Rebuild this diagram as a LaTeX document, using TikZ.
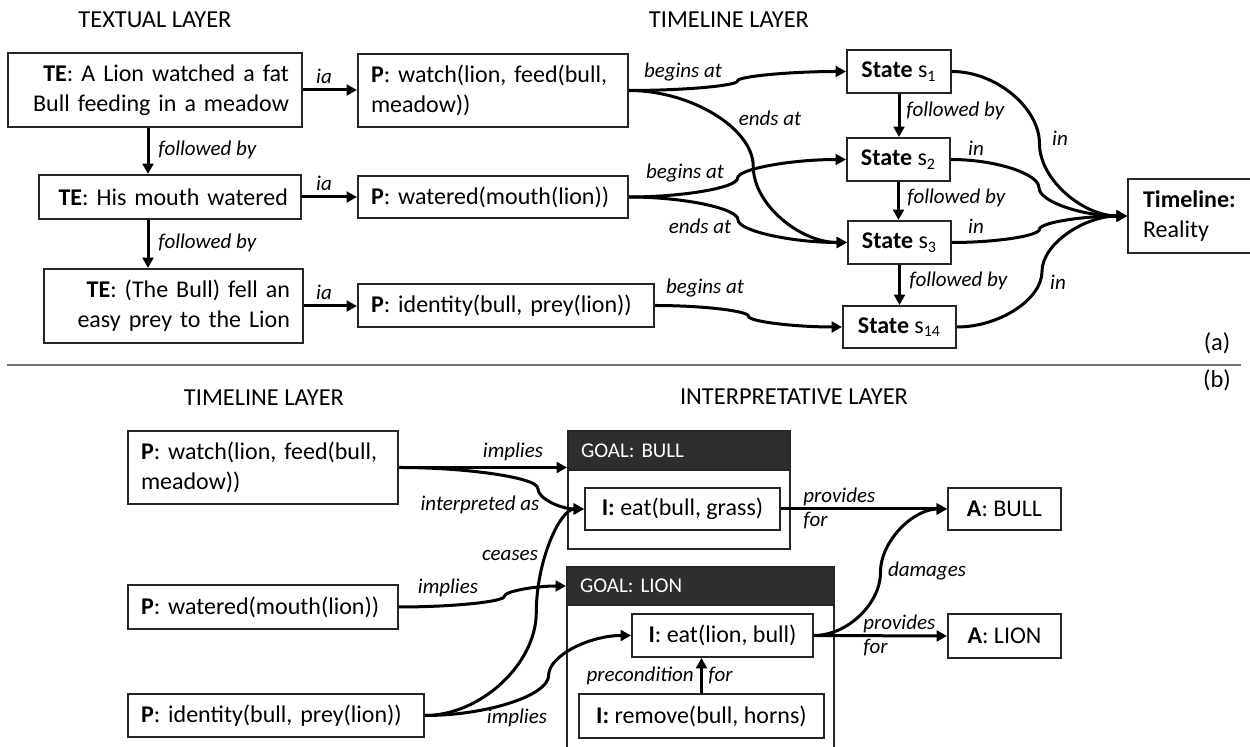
\documentclass[tikz,border=0pt]{standalone}
\usepackage{fontspec}
\setmainfont{Carlito}
\usetikzlibrary{arrows.meta,calc}
\begin{document}
\begin{tikzpicture}[x=0.5pt,y=-0.5pt,
  box/.style={draw=black!85,line width=1pt,inner xsep=6.5pt,inner ysep=0pt,
    font=\fontsize{12}{15}\selectfont,anchor=north west},
  hdr/.style={draw=black!85,fill=black!82,text=white,line width=1pt,inner xsep=6.5pt,inner ysep=0pt,
    font=\fontsize{10.5}{13}\selectfont,anchor=north west,align=left},
  lbl/.style={font=\fontsize{10.5}{12}\selectfont\itshape,inner sep=0pt},
  ttl/.style={font=\fontsize{12.2}{15}\selectfont,inner sep=0pt},
  arr/.style={line width=1.5pt,-{Triangle[length=5.2pt,width=5.4pt]}},
  cc/.style={to path={let \p1=(\tikztostart),\p2=(\tikztotarget) in
    .. controls ({\x1+#1*(\x2-\x1)/2},\y1) and ({\x1+#1*(\x2-\x1)},{\y1+(\y2-\y1)/4})
    .. ({\x1+#1*(\x2-\x1)},{(\y1+\y2)/2})
    .. controls ({\x1+#1*(\x2-\x1)},{\y1+3*(\y2-\y1)/4}) and ({\x1+(1+#1)*(\x2-\x1)/2},\y2)
    .. (\tikztotarget)}},
  cc/.default=0.5]
\useasboundingbox (0,0) rectangle (1250,747);
\clip (0,0) rectangle (1250,747);

% ---------------- (a) ----------------
\node[ttl] (t1) at (155,20) {TEXTUAL LAYER};
\node[ttl] (t2) at (729,20) {TIMELINE LAYER};

\node[box,minimum width=147pt,minimum height=37pt,text width=134pt,align=right] (te1) at (7,52)
  {\textbf{TE}: A Lion watched a fat\\Bull feeding in a meadow};
\node[box,minimum width=131pt,minimum height=22pt,text width=118pt,align=right] (te2) at (38,174)
  {\textbf{TE}: His mouth watered};
\node[box,minimum width=129.5pt,minimum height=37pt,text width=116.5pt,align=right] (te3) at (43,268)
  {\textbf{TE}: (The Bull) fell an\\easy prey to the Lion};

\node[box,minimum width=135pt,minimum height=36.5pt,text width=122pt,align=left] (p1) at (357,53)
  {\textbf{P}: watch(lion, feed(bull,\\meadow))};
\node[box,minimum width=135pt,minimum height=21pt,text width=122pt,align=left] (p2) at (357,175)
  {\textbf{P}: watered(mouth(lion))};
\node[box,minimum width=148pt,minimum height=21.5pt,text width=135pt,align=left] (p3) at (357,283)
  {\textbf{P}: identity(bull, prey(lion))};

\node[box,minimum width=52pt,minimum height=21.5pt,inner xsep=0pt] (s1) at (846,49) {\textbf{State} s\textsubscript{1}};
\node[box,minimum width=51.5pt,minimum height=21.5pt,inner xsep=0pt] (s2) at (846,137) {\textbf{State} s\textsubscript{2}};
\node[box,minimum width=51.5pt,minimum height=21.5pt,inner xsep=0pt] (s3) at (847,220) {\textbf{State} s\textsubscript{3}};
\node[box,minimum width=56.5pt,minimum height=21pt,inner xsep=0pt] (s14) at (842,305) {\textbf{State} s\textsubscript{14}};

\node[box,minimum width=65pt,minimum height=37pt,inner xsep=7.5pt,text width=50pt,align=left] (tl) at (1127,178)
  {\textbf{Timeline:}\\Reality};

\coordinate (xa) at (148,0);
\draw[arr] (te1.south -| xa) -- (te2.north -| xa);
\draw[arr] (te2.south -| xa) -- (te3.north -| xa);
\node[lbl,anchor=west] (fb1) at (158,150) {followed by};
\node[lbl,anchor=west] (fb2) at (158,243) {followed by};

\draw[arr] (te1.east) -- (te1.east -| p1.west);
\draw[arr] (te2.east) -- (te2.east -| p2.west);
\draw[arr] (te3.east) -- (te3.east -| p3.west);
\node[lbl] (ia1) at (324,76) {ia};
\node[lbl] (ia2) at (324,183) {ia};
\node[lbl] (ia3) at (324,292) {ia};

\draw[arr] (s1.south) -- (s1.south |- s2.north);
\draw[arr] (s2.south) -- (s2.south |- s3.north);
\draw[arr] (s3.south) -- (s3.south |- s14.north);
\node[lbl,anchor=west] (fb3) at (906,111) {followed by};
\node[lbl,anchor=west] (fb4) at (907,198) {followed by};
\node[lbl,anchor=west] (fb5) at (909,281) {followed by};

\draw[arr] (p1.east) to[cc] (s1.west);
\draw[arr] (p1.east) to[cc=0.57] (s3.west);
\draw[arr] (p2.east) to[cc] (s2.west);
\draw[arr] (p2.east) to[cc] (s3.west);
\draw[arr] (p3.east) to[cc] (s14.west);
\node[lbl] (ba1) at (683,72) {begins at};
\node[lbl] (ea1) at (770,118) {ends at};
\node[lbl] (ba2) at (685,173) {begins at};
\node[lbl] (ea2) at (700,226) {ends at};
\node[lbl] (ba3) at (705,288) {begins at};

\draw[arr] (s1.east) to[cc] (tl.west);
\draw[arr] (s2.east) to[cc] (tl.west);
\draw[arr] (s3.east) to[cc] (tl.west);
\draw[arr] (s14.east) to[cc] (tl.west);
\node[lbl] (in1) at (1060,138) {in};
\node[lbl] (in2) at (976,148) {in};
\node[lbl] (in3) at (976,226) {in};
\node[lbl] (in4) at (1058,282) {in};

\node[ttl] (la) at (1217,343) {(a)};
\draw[black!55,line width=1pt] (7,365) -- (1241,365);
\node[ttl] (lb) at (1217,380) {(b)};

% ---------------- (b) ----------------
\node[ttl] (t3) at (264,398) {TIMELINE LAYER};
\node[ttl] (t4) at (794,397) {INTERPRETATIVE LAYER};

\node[box,minimum width=135pt,minimum height=36.5pt,text width=122pt,align=left] (bp1) at (127,430)
  {\textbf{P}: watch(lion, feed(bull,\\meadow))};
\node[box,minimum width=135pt,minimum height=22pt,text width=122pt,align=left] (bp2) at (127,584)
  {\textbf{P}: watered(mouth(lion))};
\node[box,minimum width=148pt,minimum height=21.5pt,text width=135pt,align=left] (bp3) at (127,693)
  {\textbf{P}: identity(bull, prey(lion))};

\node[box,minimum width=111pt,minimum height=59pt] (gbo) at (567,430) {};
\node[hdr,minimum width=111pt,minimum height=19.5pt,text width=98pt] (gbh) at (567,430) {GOAL: BULL};
\node[box,minimum width=97.5pt,minimum height=21pt,inner xsep=0pt] (ib) at (584,487) {\textbf{I:} eat(bull, grass)};

\node[box,minimum width=133.5pt,minimum height=102pt] (glo) at (566,566) {};
\node[hdr,minimum width=133.5pt,minimum height=19pt,text width=120.5pt] (glh) at (566,566) {GOAL: LION};
\node[box,minimum width=90.5pt,minimum height=21.5pt,inner xsep=0pt] (il) at (631,613) {\textbf{I}: eat(lion, bull)};
\node[box,minimum width=122.5pt,minimum height=22pt,inner xsep=0pt] (ir) at (578,693) {\textbf{I:} remove(bull, horns)};

\node[box,minimum width=56.5pt,minimum height=21pt,inner xsep=0pt] (ab) at (947,487) {\textbf{A}: BULL};
\node[box,minimum width=56.5pt,minimum height=22pt,inner xsep=0pt] (al) at (947,613) {\textbf{A}: LION};

\draw[arr] (bp1.east) -- (bp1.east -| gbo.west);
\draw[arr] (bp1.east) to[cc=0.75] (ib.west);
\draw[arr] (bp3.east) to[cc=0.7] (ib.west);
\draw[arr] (bp2.east) to[cc=0.63] (glh.west);
\draw[arr] (bp3.east) to[cc=0.6] (il.west);
\node[lbl] (im1) at (513,452) {implies};
\node[lbl] (ip1) at (480,505) {interpreted as};
\node[lbl] (ce1) at (510,555) {ceases};
\node[lbl] (im2) at (448,588) {implies};
\node[lbl] (im3) at (517,718) {implies};

\draw[arr] (ir.north) -- (ir.north |- il.south);
\node[lbl,anchor=east] (pc1) at (694,676) {precondition};
\node[lbl,anchor=west] (pc2) at (708,676) {for};

\draw[arr] (ib.east) -- (ab.west);
\draw[arr] (il.east) -- (al.west);
\draw[arr] (il.east) to[cc] (ab.west);
\node[lbl,anchor=west,align=left] (pf1) at (803,508) {provides\\for};
\node[lbl,anchor=west,align=left] (pf2) at (863,635) {provides\\for};
\node[lbl] (dm1) at (927,571) {damages};
\end{tikzpicture}
\end{document}
